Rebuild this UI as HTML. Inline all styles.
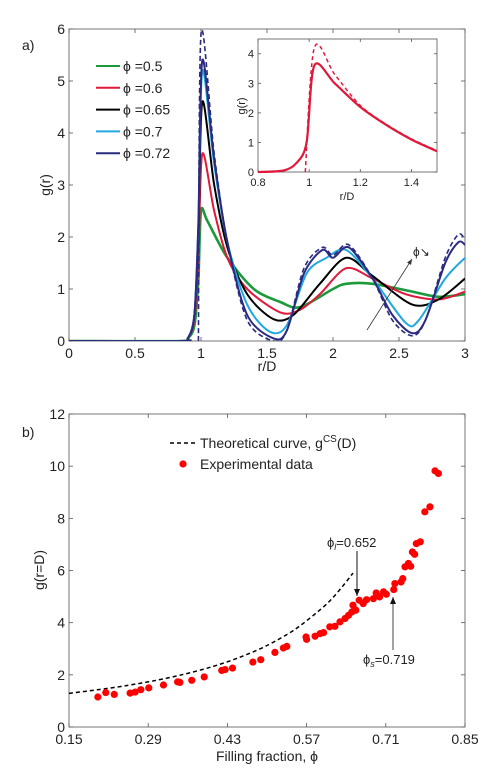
<!DOCTYPE html>
<html><head><meta charset="utf-8"><style>
body{margin:0;background:#fff;}
svg{display:block;font-family:"Liberation Sans",sans-serif;}
</style></head><body>
<svg id="fig" width="495" height="779" viewBox="0 0 495 779"></svg>
<script>
// ---------- Panel a data ----------
const grR_green=[0,0.85,0.9,0.95,0.98,1.0,1.05,1.2,1.4,1.6,1.75,2.0,2.1,2.3,2.6,2.8,3.0];
const grG_green=[0,0,0.05,0.3,1.2,2.5,2.3,1.6,1.0,0.75,0.65,1.0,1.1,1.1,0.95,0.85,0.9];
const grR_red=[0,0.85,0.9,0.95,0.98,1.01,1.1,1.2,1.35,1.6,1.75,1.9,2.1,2.3,2.55,2.8,3.0];
const grG_red=[0,0,0.05,0.4,1.6,3.6,2.5,1.6,1.0,0.55,0.6,0.9,1.4,1.2,0.9,0.8,0.95];
const grR_black=[0,0.85,0.9,0.95,0.98,1.01,1.1,1.2,1.35,1.55,1.7,1.9,2.1,2.3,2.6,2.8,3.0];
const grG_black=[0,0,0.05,0.5,2.0,4.6,3.0,1.8,0.9,0.42,0.5,1.1,1.6,1.25,0.7,0.8,1.2];
const grR_cyan=[0,0.85,0.9,0.95,0.98,1.01,1.1,1.2,1.35,1.52,1.65,1.8,1.95,2.1,2.3,2.55,2.65,2.85,3.0];
const grG_cyan=[0,0,0.05,0.5,2.2,5.2,3.4,1.9,0.7,0.18,0.3,1.3,1.6,1.75,1.2,0.35,0.4,1.2,1.6];
const grR_navy=[0,0.85,0.9,0.95,0.98,1.01,1.1,1.2,1.35,1.55,1.65,1.78,1.92,2.0,2.12,2.3,2.45,2.6,2.7,2.85,2.95,3.0];
const grG_navy=[0,0,0.05,0.5,2.3,5.4,3.5,1.9,0.5,0.05,0.2,1.3,1.75,1.6,1.8,1.2,0.5,0.15,0.4,1.5,1.9,1.85];
const thR_navy=[0.98,1.0,1.1,1.2,1.35,1.55,1.65,1.78,1.92,2.0,2.12,2.3,2.45,2.6,2.7,2.85,2.95,3.0];
const thG_navy=[0,5.9,3.6,1.9,0.4,0.0,0.2,1.4,1.8,1.65,1.85,1.2,0.4,0.1,0.4,1.6,2.05,1.95];
const legendLabels=["\u03d5 =0.5","\u03d5 =0.6","\u03d5 =0.65","\u03d5 =0.7","\u03d5 =0.72"];
const xTicksA=[0,0.5,1,1.5,2,2.5,3];
const yTicksA=[0,1,2,3,4,5,6];
// inset
const inR=[0.8,0.9,0.95,0.99,1.02,1.1,1.2,1.3,1.4,1.5];
const inG=[0,0.05,0.3,1.0,3.6,3.0,2.2,1.6,1.1,0.7];
const inThR=[0.985,1.02,1.1,1.2,1.3,1.4,1.5];
const inThG=[0,4.2,3.3,2.25,1.62,1.12,0.72];
const xTicksIn=[0.8,1,1.2,1.4];
const yTicksIn=[0,1,2,3,4];
// ---------- Panel b data ----------
const expPhi=[0.201,0.215,0.23,0.258,0.267,0.277,0.291,0.317,0.342,0.346,0.367,0.389,0.42,0.426,0.439,0.475,0.489,0.514,0.529,0.535,0.569,0.57,0.585,0.594,0.6,0.611,0.62,0.629,0.638,0.644,0.65,0.652,0.657,0.663,0.67,0.676,0.688,0.693,0.699,0.706,0.711,0.724,0.726,0.737,0.74,0.744,0.75,0.754,0.757,0.761,0.764,0.771,0.779,0.788,0.797,0.803];
const expG=[1.15,1.32,1.25,1.3,1.34,1.43,1.5,1.61,1.73,1.71,1.79,1.92,2.17,2.2,2.26,2.49,2.58,2.86,3.03,3.09,3.45,3.36,3.48,3.58,3.62,3.84,3.86,4.03,4.16,4.28,4.41,4.67,4.48,4.86,4.73,4.88,4.92,5.14,4.99,5.18,5.09,5.27,5.5,5.56,5.69,6.14,6.27,6.16,6.71,6.62,7.03,7.1,8.25,8.44,9.82,9.72];
const thPhi=[0.15,0.2,0.25,0.3,0.35,0.4,0.45,0.5,0.55,0.6,0.625,0.652];
const thG=[1.29,1.426,1.583,1.773,2.004,2.292,2.655,3.125,3.75,4.609,5.167,5.9];
const xTicksB=["0.15","0.29","0.43","0.57","0.71","0.85"];
const yTicksB=[0,2,4,6,8,10,12];

const NS="http://www.w3.org/2000/svg";
const svg=document.getElementById('fig');
function el(tag,attrs,parent,text){const e=document.createElementNS(NS,tag);for(const k in attrs)e.setAttribute(k,attrs[k]);if(text!==undefined)e.textContent=text;(parent||svg).appendChild(e);return e;}
function scale(d0,d1,p0,p1){return v=>p0+(v-d0)/(d1-d0)*(p1-p0);}
function smoothPath(xs,ys,sx,sy){
  const P=xs.map((x,i)=>[sx(x),sy(ys[i])]);
  let d="M"+P[0][0].toFixed(1)+","+P[0][1].toFixed(1);
  for(let i=0;i<P.length-1;i++){
    const p0=P[Math.max(0,i-1)],p1=P[i],p2=P[i+1],p3=P[Math.min(P.length-1,i+2)];
    const t=0.15;
    const c1=[p1[0]+(p2[0]-p0[0])*t,p1[1]+(p2[1]-p0[1])*t];
    const c2=[p2[0]-(p3[0]-p1[0])*t,p2[1]-(p3[1]-p1[1])*t];
    d+=" C"+c1[0].toFixed(1)+","+c1[1].toFixed(1)+" "+c2[0].toFixed(1)+","+c2[1].toFixed(1)+" "+p2[0].toFixed(1)+","+p2[1].toFixed(1);
  }
  return d;
}
function axesBox(x0,y0,x1,y1,g,name){
  const r=el('rect',{x:x0,y:y0,width:x1-x0,height:y1-y0,fill:'#fff',stroke:'#555','stroke-width':0.8},g);
  
  
}
function ticks(vals,sx,sy,x0,y0,x1,y1,g,axis,fs,labels,tl){
  vals.forEach((v,i)=>{
    if(axis==='x'){const x=sx(v);
      el('line',{x1:x,y1:y1,x2:x,y2:y1-tl,stroke:'#555','stroke-width':0.8},g);
      el('line',{x1:x,y1:y0,x2:x,y2:y0+tl,stroke:'#555','stroke-width':0.8},g);
      const t=el('text',{x:x,y:y1+fs+3,'font-size':fs,'text-anchor':'middle',fill:'#222'},g,labels?labels[i]:v);
      
    }else{const y=sy(v);
      el('line',{x1:x0,y1:y,x2:x0+tl,y2:y,stroke:'#555','stroke-width':0.8},g);
      el('line',{x1:x1,y1:y,x2:x1-tl,y2:y,stroke:'#555','stroke-width':0.8},g);
      const t=el('text',{x:x0-4,y:y+fs*0.36,'font-size':fs,'text-anchor':'end',fill:'#222'},g,labels?labels[i]:v);
      
    }
  });
}
// ================= Panel a =================
const ga=el('g',{});

const ax0=69,ax1=465,ay0=29,ay1=341;
const sxA=scale(0,3,ax0,ax1),syA=scale(0,6,ay1,ay0);
axesBox(ax0,ay0,ax1,ay1,ga,'plot-area-a');
ticks(xTicksA,sxA,syA,ax0,ay0,ax1,ay1,ga,'x',14,null,4);
ticks(yTicksA,sxA,syA,ax0,ay0,ax1,ay1,ga,'y',14,null,4);
let t;
t=el('text',{x:22,y:50,'font-size':14,fill:'#222'},ga,'a)');
t=el('text',{x:0,y:0,'font-size':14,fill:'#222','text-anchor':'middle',transform:'translate(50,185) rotate(-90)'},ga,'g(r)');
t=el('text',{x:267,y:371,'font-size':14,fill:'#222','text-anchor':'middle'},ga,'r/D');
const clipA=el('clipPath',{id:'clipA'},ga);el('rect',{x:ax0,y:ay0-4,width:ax1-ax0,height:ay1-ay0+4},clipA);
const series=[
 {r:grR_green,g:grG_green,c:'#1a9a3a',w:2.6,n:'series-phi-0.5'},
 {r:grR_red,g:grG_red,c:'#e0183a',w:2,n:'series-phi-0.6'},
 {r:grR_black,g:grG_black,c:'#000',w:2,n:'series-phi-0.65'},
 {r:grR_cyan,g:grG_cyan,c:'#20a8e0',w:2,n:'series-phi-0.7'},
 {r:grR_navy,g:grG_navy,c:'#2a2a80',w:2,n:'series-phi-0.72'}];
const cg=el('g',{'clip-path':'url(#clipA)'},ga);
series.forEach(s=>{
  const p=el('path',{d:smoothPath(s.r,s.g,sxA,syA),fill:'none',stroke:s.c,'stroke-width':s.w,'stroke-linejoin':'round'},cg);
  
});
const pd=el('path',{d:smoothPath(thR_navy,thG_navy,sxA,syA),fill:'none',stroke:'#2a2a80','stroke-width':1.6,'stroke-dasharray':'5,3'},cg);

// legend
series.forEach((s,i)=>{
  const y=66+i*21.8;
  const l=el('line',{x1:96,y1:y,x2:120,y2:y,stroke:s.c,'stroke-width':2},ga);
  
  const tx=el('text',{x:123,y:y+5,'font-size':14,fill:'#222'},ga,legendLabels[i]);
  
});
// arrow
el('defs',{},ga).innerHTML='<marker id="ah" markerWidth="8" markerHeight="8" refX="7" refY="4" orient="auto"><path d="M0,1 L7,4 L0,7 Z" fill="#333"/></marker>';
const ar=el('line',{x1:367,y1:330,x2:412,y2:259,stroke:'#333','stroke-width':0.8,'marker-end':'url(#ah)'},ga);

t=el('text',{x:413,y:256,'font-size':12,fill:'#222'},ga,'\u03d5\u2198');
// inset
const ix0=258,ix1=437,iy0=39,iy1=172;
const sxI=scale(0.8,1.5,ix0,ix1),syI=scale(0,4.5,iy1,iy0);
axesBox(ix0,iy0,ix1,iy1,ga,'inset-plot-area');
ticks(xTicksIn,sxI,syI,ix0,iy0,ix1,iy1,ga,'x',11,null,3);
ticks(yTicksIn,sxI,syI,ix0,iy0,ix1,iy1,ga,'y',11,null,3);
t=el('text',{x:347,y:200,'font-size':11,fill:'#222','text-anchor':'middle'},ga,'r/D');
t=el('text',{x:0,y:0,'font-size':11,fill:'#222','text-anchor':'middle',transform:'translate(245,106) rotate(-90)'},ga,'g(r)');
let ip=el('path',{d:smoothPath(inThR,inThG,sxI,syI),fill:'none',stroke:'#e0183a','stroke-width':1.5,'stroke-dasharray':'4,3'},ga);

ip=el('path',{d:smoothPath(inR,inG,sxI,syI),fill:'none',stroke:'#e0183a','stroke-width':2.2},ga);


// ================= Panel b =================
const gb=el('g',{});

const bx0=69,bx1=465,by0=414,by1=727;
const sxB=scale(0.15,0.85,bx0,bx1),syB=scale(0,12,by1,by0);
axesBox(bx0,by0,bx1,by1,gb,'plot-area-b');
ticks(xTicksB.map(Number),sxB,syB,bx0,by0,bx1,by1,gb,'x',14,xTicksB,4);
ticks(yTicksB,sxB,syB,bx0,by0,bx1,by1,gb,'y',14,null,4);
t=el('text',{x:22,y:437,'font-size':14,fill:'#222'},gb,'b)');
t=el('text',{x:0,y:0,'font-size':14,fill:'#222','text-anchor':'middle',transform:'translate(44,570) rotate(-90)'},gb,'g(r=D)');
t=el('text',{x:267,y:761,'font-size':14,fill:'#222','text-anchor':'middle'},gb,'Filling fraction, \u03d5');
const tp=el('path',{d:smoothPath(thPhi,thG,sxB,syB),fill:'none',stroke:'#000','stroke-width':1.5,'stroke-dasharray':'4,3'},gb);

expPhi.forEach((p,i)=>{
  const c=el('circle',{cx:sxB(p),cy:syB(expG[i]),r:3.6,fill:'#f00'},gb);
  
});
// legend b
let lb=el('line',{x1:170,y1:443,x2:198,y2:443,stroke:'#000','stroke-width':1.5,'stroke-dasharray':'4,3'},gb);

t=el('text',{x:200,y:448,'font-size':14,fill:'#222'},gb);t.innerHTML='Theoretical curve, g<tspan dy="-6" font-size="10">CS</tspan><tspan dy="6">(D)</tspan>';

lb=el('circle',{cx:183,cy:464,r:3.6,fill:'#f00'},gb);

t=el('text',{x:200,y:469,'font-size':14,fill:'#222'},gb,'Experimental data');
// annotations
el('defs',{},gb).innerHTML='<marker id="ah2" markerWidth="8" markerHeight="8" refX="7" refY="4" orient="auto"><path d="M0,1 L7,4 L0,7 Z" fill="#111"/></marker>';
let a1=el('line',{x1:357,y1:551,x2:357,y2:596,stroke:'#111','stroke-width':1,'marker-end':'url(#ah2)'},gb);

t=el('text',{x:327,y:547,'font-size':13,fill:'#222'},gb);t.innerHTML='\u03d5<tspan dy="3" font-size="9" font-style="italic">l</tspan><tspan dy="-3">=0.652</tspan>';

let a2=el('line',{x1:393,y1:650,x2:393,y2:597,stroke:'#444','stroke-width':1,'marker-end':'url(#ah2)'},gb);

t=el('text',{x:363,y:664,'font-size':13,fill:'#222'},gb);t.innerHTML='\u03d5<tspan dy="3" font-size="9" font-style="italic">s</tspan><tspan dy="-3">=0.719</tspan>';

</script>
</body></html>
